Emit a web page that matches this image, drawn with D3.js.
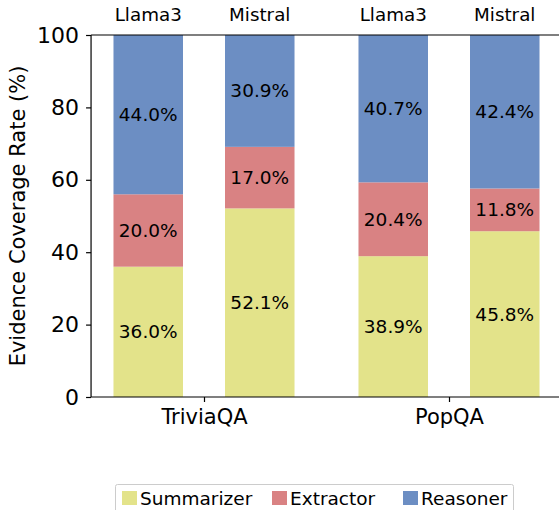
<!DOCTYPE html>
<html><head><meta charset="utf-8">
<script src="https://cdn.jsdelivr.net/npm/d3@7"></script>
<style>body{margin:0;background:#fff}svg{display:block}text{font-family:"DejaVu Sans",sans-serif;fill:#000}</style>
</head><body><svg id="c" width="559" height="510"></svg>
<script>
const datasets = ["TriviaQA", "PopQA"];
const models = ["Llama3", "Mistral"];
const roles = ["Summarizer", "Extractor", "Reasoner"];
const colors = ["#e3e38a", "#d98283", "#6c8ec3"];
const summarizer = [36.0, 52.1, 38.9, 45.8];
const extractor  = [20.0, 17.0, 20.4, 11.8];
const reasoner   = [44.0, 30.9, 40.7, 42.4];
const yTicks = [0, 20, 40, 60, 80, 100];

const svg = d3.select("#c");
const x = d3.scaleLinear().domain([0, 1]).range([204, 449]);
const y = d3.scaleLinear().domain([0, 100]).range([397, 35]);
const off = 0.2276, bw = 0.2837;
const xLeft = x(-0.461), xRight = 559;

const bars = [];
datasets.forEach((d, di) => models.forEach((m, mi) => {
  const k = di * 2 + mi;
  const vals = [summarizer[k], extractor[k], reasoner[k]];
  let base = 0;
  vals.forEach((v, ri) => {
    bars.push({pos: di + (mi === 0 ? -off : off), y0: base, y1: base + v, v, ri, m});
    base += v;
  });
}));

svg.selectAll("rect.bar").data(bars).enter().append("rect")
  .attr("x", d => x(d.pos - bw / 2)).attr("width", x(bw) - x(0))
  .attr("y", d => y(d.y1)).attr("height", d => y(d.y0) - y(d.y1))
  .attr("fill", d => colors[d.ri]);

svg.selectAll("text.val").data(bars).enter().append("text")
  .attr("x", d => x(d.pos)).attr("y", d => y((d.y0 + d.y1) / 2))
  .attr("text-anchor", "middle").attr("dominant-baseline", "central")
  .style("font-size", "18.5px").text(d => d.v.toFixed(1) + "%");

// model labels above
svg.selectAll("text.model").data(bars.filter(d => d.ri === 0)).enter().append("text")
  .attr("x", d => x(d.pos)).attr("y", 21).attr("text-anchor", "middle")
  .style("font-size", "18.3px").text(d => d.m);

// spines
const g = svg.append("g").attr("stroke", "#000").attr("stroke-width", 1.2);
g.append("line").attr("x1", xLeft).attr("x2", xRight).attr("y1", y(100)).attr("y2", y(100));
g.append("line").attr("x1", xLeft).attr("x2", xRight).attr("y1", y(0)).attr("y2", y(0));
g.append("line").attr("x1", xLeft).attr("x2", xLeft).attr("y1", y(0)).attr("y2", y(100));

// y axis
const ya = svg.append("g").attr("transform", `translate(${xLeft},0)`)
  .call(d3.axisLeft(y).tickValues(yTicks).tickSize(5).tickPadding(7));
ya.select(".domain").remove();
ya.selectAll("line").attr("stroke", "#000").attr("stroke-width", 1.2);
ya.selectAll("text").style("font-size", "22px").style("font-family", "DejaVu Sans");

// x axis
const xa = svg.append("g").attr("transform", `translate(0,${y(0)})`)
  .call(d3.axisBottom(x).tickValues([0, 1]).tickFormat((d, i) => datasets[i]).tickSize(5).tickPadding(7));
xa.select(".domain").remove();
xa.selectAll("line").attr("stroke", "#000").attr("stroke-width", 1.2);
xa.selectAll("text").style("font-size", "21px").style("font-family", "DejaVu Sans");

svg.append("text").attr("transform", `translate(18,${(y(0) + y(100)) / 2}) rotate(-90)`)
  .attr("text-anchor", "middle").attr("dominant-baseline", "central")
  .style("font-size", "21px").text("Evidence Coverage Rate (%)");

// legend
const lg = svg.append("g");
lg.append("rect").attr("x", 115.5).attr("y", 484.5).attr("width", 398).attr("height", 34)
  .attr("fill", "#fff").attr("stroke", "#ccc").attr("rx", 2);
const lx = [122, 272, 403];
roles.forEach((r, i) => {
  lg.append("rect").attr("x", lx[i]).attr("y", 491).attr("width", 15).attr("height", 14).attr("fill", colors[i]);
  lg.append("text").attr("x", lx[i] + 18).attr("y", 498).attr("dominant-baseline", "central")
    .style("font-size", "18.5px").text(r);
});
</script></body></html>
